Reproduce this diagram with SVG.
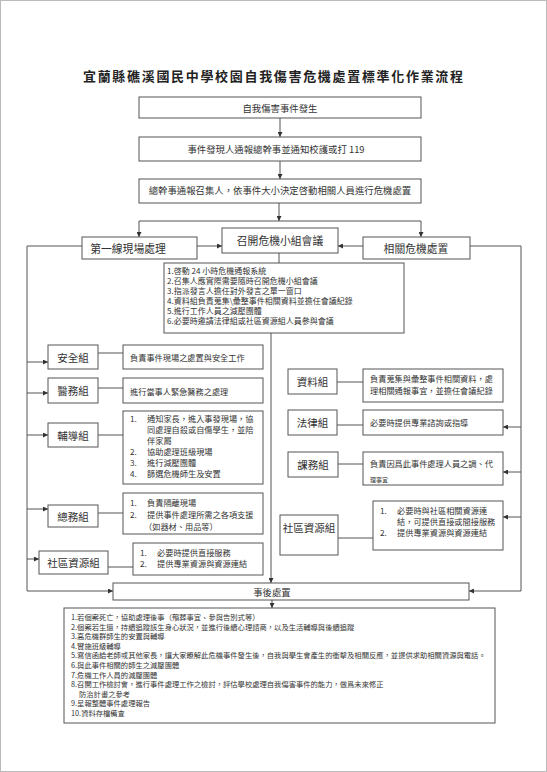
<svg xmlns="http://www.w3.org/2000/svg" width="547" height="772" viewBox="0 0 547 772">
<defs>
<marker id="ah" viewBox="0 0 8 8" refX="8" refY="4" markerWidth="5" markerHeight="5" orient="auto" markerUnits="userSpaceOnUse">
<path d="M0,0 L8,4 L0,8 z" fill="#333"/>
</marker>
<style>
.bx{fill:#fff;stroke:#555;stroke-width:1}
.ln{fill:none;stroke:#555;stroke-width:1}
.ar{fill:none;stroke:#555;stroke-width:1;marker-end:url(#ah)}
text{font-family:"Noto Sans CJK TC","Noto Sans CJK SC",sans-serif;fill:#333;dominant-baseline:central}
.c{text-anchor:middle}
.h{font-size:9.4px}
.m{font-size:10.8px}
.n{font-size:10.5px}
.d{font-size:8.2px}
.l{font-size:8px}
.s{font-size:7.3px}
</style>
</defs>
<rect x="0.5" y="0.5" width="546" height="771" fill="#fff" stroke="#bbb"/>
<text x="273" y="75" class="c" style="font-size:13px;font-weight:bold;fill:#222" textLength="380" lengthAdjust="spacing">宜蘭縣礁溪國民中學校園自我傷害危機處置標準化作業流程</text>

<g id="connectors">
<line class="ar" x1="280" y1="118" x2="280" y2="137"/>
<line class="ar" x1="280" y1="161" x2="280" y2="179"/>
<line class="ar" x1="279" y1="203" x2="279" y2="221"/>
<line class="ln" x1="139" y1="221" x2="421" y2="221"/>
<line class="ar" x1="139" y1="221" x2="139" y2="237"/>
<line class="ar" x1="421" y1="221" x2="421" y2="237"/>
<line class="ar" x1="197" y1="246" x2="222" y2="246"/>
<line class="ar" x1="363" y1="246" x2="338" y2="246"/>
<line class="ln" x1="279" y1="253" x2="279" y2="263"/>
<line class="ar" x1="271" y1="333" x2="271" y2="583"/>
<polyline class="ar" points="82,246 27,246 27,591 113,591"/>
<line class="ar" x1="27" y1="362" x2="48" y2="362"/>
<line class="ar" x1="27" y1="393" x2="48" y2="393"/>
<line class="ar" x1="27" y1="435" x2="48" y2="435"/>
<line class="ar" x1="27" y1="509" x2="48" y2="509"/>
<line class="ar" x1="27" y1="559" x2="39" y2="559"/>
<polyline class="ar" points="470,246 521,246 521,591 469,591"/>
<line class="ar" x1="521" y1="427" x2="503" y2="427"/>
<line class="ar" x1="521" y1="472" x2="503" y2="472"/>
<line class="ar" x1="521" y1="517" x2="503" y2="517"/>
<line class="ln" x1="98" y1="353" x2="123" y2="353"/>
<line class="ln" x1="98" y1="388" x2="123" y2="388"/>
<line class="ln" x1="98" y1="435" x2="123" y2="435"/>
<line class="ln" x1="98" y1="513" x2="123" y2="513"/>
<line class="ln" x1="108" y1="567" x2="133" y2="567"/>
<line class="ln" x1="337" y1="382" x2="363" y2="382"/>
<line class="ln" x1="337" y1="425" x2="363" y2="425"/>
<line class="ln" x1="338" y1="464" x2="363" y2="464"/>
<line class="ln" x1="338" y1="538" x2="373" y2="538"/>
<line class="ar" x1="272" y1="600" x2="272" y2="608"/>
</g>

<g id="n-start"><rect class="bx" x="139" y="97" width="282" height="21"/><text x="280" y="108" class="c h">自我傷害事件發生</text></g>
<g id="n-report"><rect class="bx" x="139" y="137" width="282" height="24"/><text x="276" y="149" class="c h">事件發現人通報總幹事並通知校護或打 119</text></g>
<g id="n-convene"><rect class="bx" x="139" y="179" width="282" height="24"/><text x="280" y="190" class="c h">總幹事通報召集人，依事件大小決定啓動相關人員進行危機處置</text></g>
<g id="n-first"><rect class="bx" x="82" y="237" width="115" height="22"/><text x="128" y="248" class="c m">第一線現場處理</text></g>
<g id="n-meeting"><rect class="bx" x="222" y="228" width="116" height="25"/><text x="280" y="240" class="c m">召開危機小組會議</text></g>
<g id="n-related"><rect class="bx" x="363" y="237" width="107" height="22"/><text x="416" y="248" class="c m">相關危機處置</text></g>
<g id="n-meeting-list"><rect class="bx" x="164" y="263" width="240" height="70"/>
<text x="167" y="270" class="l">1.啓動 24 小時危機通報系統</text>
<text x="167" y="280" class="l">2.召集人應實際需要隨時召開危機小組會議</text>
<text x="167" y="290" class="l">3.指派發言人擔任對外發言之單一窗口</text>
<text x="167" y="300" class="l">4.資料組負責蒐集\彙整事件相關資料並擔任會議紀錄</text>
<text x="167" y="310" class="l">5.進行工作人員之減壓團體</text>
<text x="167" y="320" class="l">6.必要時邀請法律組或社區資源組人員參與會議</text>
</g>

<g id="n-safety"><rect class="bx" x="48" y="345" width="50" height="24"/><text x="73" y="357" class="c n">安全組</text></g>
<g id="n-safety-d"><rect class="bx" x="123" y="345" width="140" height="24"/><text x="130" y="357" class="d">負責事件現場之處置與安全工作</text></g>
<g id="n-medical"><rect class="bx" x="48" y="378" width="50" height="25"/><text x="73" y="390.5" class="c n">醫務組</text></g>
<g id="n-medical-d"><rect class="bx" x="123" y="378" width="140" height="25"/><text x="130" y="390.5" class="d">進行當事人緊急醫務之處理</text></g>
<g id="n-counsel"><rect class="bx" x="48" y="423" width="50" height="24"/><text x="73" y="435" class="c n">輔導組</text></g>
<g id="n-counsel-d"><rect class="bx" x="123" y="411" width="140" height="73"/>
<text x="130" y="418" class="d">1.</text><text x="147" y="418" class="d">通知家長，進入事發現場，協</text>
<text x="147" y="429" class="d">同處理自殺或自傷學生，並陪</text>
<text x="147" y="440" class="d">伴家屬</text>
<text x="130" y="451" class="d">2.</text><text x="147" y="451" class="d">協助處理班級現場</text>
<text x="130" y="462" class="d">3.</text><text x="147" y="462" class="d">進行減壓團體</text>
<text x="130" y="473" class="d">4.</text><text x="147" y="473" class="d">篩選危機師生及安置</text>
</g>
<g id="n-general"><rect class="bx" x="48" y="505" width="50" height="22"/><text x="73" y="516" class="c n">總務組</text></g>
<g id="n-general-d"><rect class="bx" x="123" y="493" width="140" height="41"/>
<text x="130" y="502" class="d">1.</text><text x="147" y="502" class="d">負責隔離現場</text>
<text x="130" y="514" class="d">2.</text><text x="147" y="514" class="d">提供事件處理所需之各項支援</text>
<text x="144" y="526" class="d">（如器材、用品等）</text>
</g>
<g id="n-community-l"><rect class="bx" x="39" y="551" width="69" height="23"/><text x="73.5" y="562.5" class="c n">社區資源組</text></g>
<g id="n-community-l-d"><rect class="bx" x="133" y="543" width="130" height="32"/>
<text x="140" y="552" class="d">1.</text><text x="157" y="552" class="d">必要時提供直接服務</text>
<text x="140" y="563" class="d">2.</text><text x="157" y="563" class="d">提供專業資源與資源連結</text>
</g>

<g id="n-data"><rect class="bx" x="288" y="369" width="49" height="25"/><text x="312.5" y="381.5" class="c n">資料組</text></g>
<g id="n-data-d"><rect class="bx" x="363" y="369" width="140" height="33"/>
<text x="370" y="378" class="d">負責蒐集與彙整事件相關資料，處</text>
<text x="370" y="390" class="d">理相關通報事宜，並擔任會議紀錄</text>
</g>
<g id="n-legal"><rect class="bx" x="288" y="410" width="49" height="25"/><text x="312.5" y="422.5" class="c n">法律組</text></g>
<g id="n-legal-d"><rect class="bx" x="363" y="410" width="140" height="25"/><text x="370" y="422" class="d">必要時提供專業諮詢或指導</text></g>
<g id="n-academic"><rect class="bx" x="288" y="452" width="50" height="25"/><text x="313" y="464" class="c n">課務組</text></g>
<g id="n-academic-d"><rect class="bx" x="363" y="452" width="140" height="33"/>
<text x="370" y="463" class="d">負責因爲此事件處理人員之調、代</text>
<text x="370" y="479" style="font-size:6px">理事宜</text>
</g>
<g id="n-community-r"><rect class="bx" x="280" y="515" width="58" height="40"/><text x="309" y="527" class="c n">社區資源組</text></g>
<g id="n-community-r-d"><rect class="bx" x="373" y="501" width="130" height="49"/>
<text x="380" y="510" class="d">1.</text><text x="397" y="510" class="d">必要時與社區相關資源連</text>
<text x="397" y="521" class="d">結，可提供直接或間接服務</text>
<text x="380" y="532" class="d">2.</text><text x="397" y="532" class="d">提供專業資源與資源連結</text>
</g>

<g id="n-after"><rect class="bx" x="113" y="583" width="356" height="17"/><text x="272" y="592" class="c h">事後處置</text></g>
<g id="n-after-list"><rect class="bx" x="64" y="608" width="431" height="115"/>
<text x="71" y="617" class="s">1.若個案死亡，協助處理後事（殯葬事宜、參與告別式等）</text>
<text x="71" y="626.6" class="s">2.個案若生還，持續追蹤該生身心狀況，並進行後續心理諮商，以及生活輔導與後續追蹤</text>
<text x="71" y="636.2" class="s">3.高危機群師生的安置與輔導</text>
<text x="71" y="645.8" class="s">4.實施班級輔導</text>
<text x="71" y="655.4" class="s">5.寫信函給老師或其他家長，讓大家瞭解此危機事件發生後，自我與學生會產生的衝擊及相關反應，並提供求助相關資源與電話。</text>
<text x="71" y="665" class="s">6.與此事件相關的師生之減壓團體</text>
<text x="71" y="674.6" class="s">7.危機工作人員的減壓團體</text>
<text x="71" y="684.2" class="s">8.召開工作檢討會，進行事件處理工作之檢討，評估學校處理自我傷害事件的能力，做爲未來修正</text>
<text x="79" y="693.8" class="s">防治計畫之參考</text>
<text x="71" y="703.4" class="s">9.呈報整體事件處理報告</text>
<text x="71" y="713" class="s">10.資料存檔備查</text>
</g>
</svg>
